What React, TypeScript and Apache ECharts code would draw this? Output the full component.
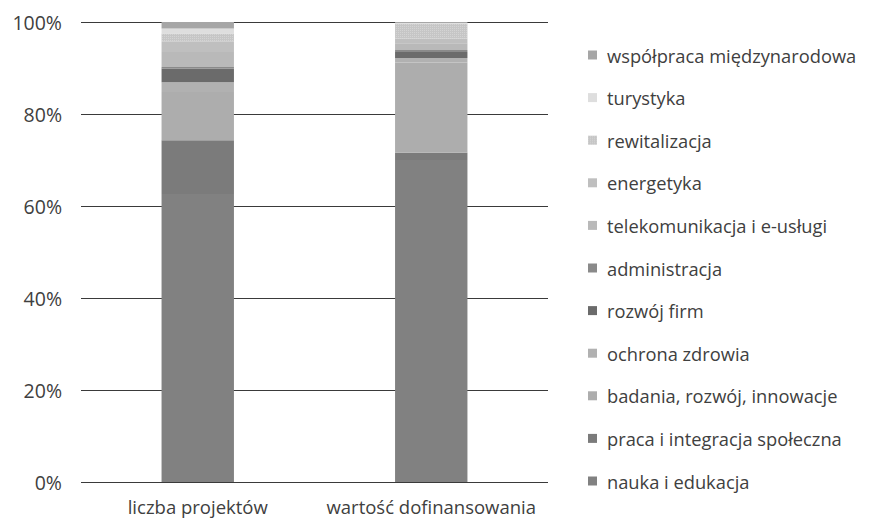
import React, { useEffect, useRef } from "react";
import * as echarts from "echarts";

const categories = ["liczba projektów", "wartość dofinansowania"];

const seriesNames = [
  "nauka i edukacja",
  "praca i integracja społeczna",
  "badania, rozwój, innowacje",
  "ochrona zdrowia",
  "rozwój firm",
  "administracja",
  "telekomunikacja i e-usługi",
  "energetyka",
  "rewitalizacja",
  "turystyka",
  "współpraca międzynarodowa",
];

const liczbaProjektow = [62.6, 11.7, 10.5, 2.1, 3.0, 0.3, 3.3, 2.2, 1.8, 1.1, 1.4];
const wartoscDofinansowania = [70.0, 1.6, 19.6, 1.0, 1.3, 0.4, 1.5, 1.0, 3.3, 0.1, 0.2];

const colors = [
  "#818181",
  "#7b7b7b",
  "#adadad",
  "#b1b1b1",
  "#6b6b6b",
  "#8a8a8a",
  "#b9b9b9",
  "#bfbfbf",
  "#c6c6c6",
  "#dedede",
  "#a6a6a6",
];

const yTicks = [0, 20, 40, 60, 80, 100];

export default function App() {
  const ref = useRef<HTMLDivElement>(null);
  useEffect(() => {
    if (!ref.current) return;
    const chart = echarts.init(ref.current, null, { renderer: "svg" });
    const series = seriesNames.map((name, i) => ({
      name,
      type: "bar" as const,
      stack: "total",
      barWidth: "31%",
      data: [liczbaProjektow[i], wartoscDofinansowania[i]],
      itemStyle: {
        color: colors[i],
        ...(name === "rewitalizacja"
          ? {
              decal: {
                symbol: "rect",
                symbolSize: 1,
                color: "rgba(255,255,255,0.25)",
                dashArrayX: [1, 1],
                dashArrayY: [1, 1],
                rotation: 0,
              },
            }
          : {}),
      },
    }));
    chart.setOption({
      animation: false,
      backgroundColor: "#ffffff",
      textStyle: { fontFamily: "Open Sans" },
      grid: { left: 81, right: 331, top: 22, bottom: 40, containLabel: false },
      xAxis: {
        type: "category",
        data: categories,
        axisLine: { show: false },
        axisTick: { show: false },
        axisLabel: { color: "#404040", fontSize: 18.5, margin: 15, interval: 0 },
      },
      yAxis: {
        type: "value",
        min: yTicks[0],
        max: yTicks[yTicks.length - 1],
        interval: 20,
        axisLine: { show: false },
        axisTick: { show: false },
        splitLine: { lineStyle: { color: "#3a3a3a", width: 1 } },
        axisLabel: { color: "#404040", fontSize: 19.5, margin: 19, formatter: "{value}%" },
      },
      legend: {
        orient: "vertical",
        left: 588,
        top: 44,
        padding: 0,
        itemWidth: 9,
        itemHeight: 9,
        itemGap: 20.6,
        icon: "rect",
        data: [...seriesNames].reverse(),
        textStyle: { color: "#404040", fontSize: 18.3, lineHeight: 22, padding: [0, 0, 0, 5] },
      },
      series,
    });
    return () => chart.dispose();
  }, []);
  return (
    <div
      ref={ref}
      style={{ position: "fixed", left: 0, top: 0, width: 879, height: 522 }}
    />
  );
}
